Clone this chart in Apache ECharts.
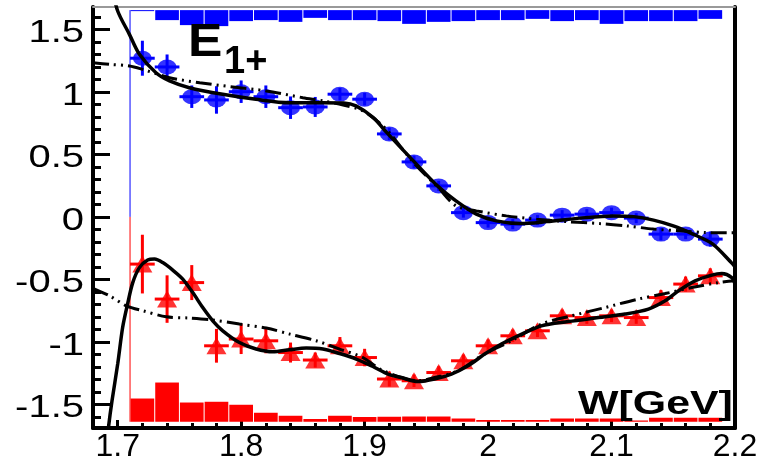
<!DOCTYPE html>
<html>
<head>
<meta charset="utf-8">
<script src="https://cdn.jsdelivr.net/npm/echarts@6/dist/echarts.min.js"></script>
<style>
  html, body { margin: 0; padding: 0; background: #fff; }
  #chart { width: 767px; height: 463px; }
</style>
</head>
<body>
<div id="chart"></div>
<script>
// Axis ticks
const xTicks = [1.7, 1.8, 1.9, 2.0, 2.1, 2.2];
const yTicks = [-1.5, -1, -0.5, 0, 0.5, 1, 1.5];

// Measured multipole points (W in GeV)
const wPoints = [1.72, 1.74, 1.76, 1.78, 1.80, 1.82, 1.84, 1.86, 1.88, 1.90, 1.92, 1.94,
                 1.96, 1.98, 2.00, 2.02, 2.04, 2.06, 2.08, 2.10, 2.12, 2.14, 2.16, 2.18];
const blueVals = [1.27, 1.20, 0.962, 0.936, 1.002, 0.962, 0.874, 0.88, 0.982, 0.942, 0.664, 0.44,
                  0.248, 0.034, -0.046, -0.058, -0.026, 0.014, 0.022, 0.034, -0.01, -0.138, -0.138, -0.178];
const blueErrs = [0.14, 0.10, 0.09, 0.11, 0.09, 0.09, 0.09, 0.08, 0.05, 0.05, 0.05, 0.05,
                  0.04, 0.04, 0.04, 0.04, 0.04, 0.04, 0.04, 0.04, 0.04, 0.05, 0.04, 0.06];
const redVals = [-0.378, -0.658, -0.526, -1.032, -0.978, -0.992, -1.086, -1.146, -1.032, -1.126, -1.298, -1.312,
                 -1.246, -1.152, -1.032, -0.952, -0.912, -0.792, -0.806, -0.792, -0.806, -0.646, -0.538, -0.472];
const redErrs = [0.235, 0.19, 0.14, 0.135, 0.12, 0.10, 0.08, 0.06, 0.07, 0.07, 0.06, 0.05,
                 0.05, 0.05, 0.05, 0.05, 0.05, 0.05, 0.05, 0.05, 0.05, 0.06, 0.06, 0.06];
const xHalfWidth = 0.01;

// Histogram bins (lower edges) and bar sizes
const binLow = [1.71, 1.73, 1.75, 1.77, 1.79, 1.81, 1.83, 1.85, 1.87, 1.89, 1.91, 1.93,
                1.95, 1.97, 1.99, 2.01, 2.03, 2.05, 2.07, 2.09, 2.11, 2.13, 2.15, 2.17];
const binWidth = 0.02;
const blueHistTop = 1.655;
const blueHistDepth = [0.008, 0.08, 0.12, 0.128, 0.088, 0.08, 0.094, 0.062, 0.08, 0.08, 0.088, 0.11,
                       0.094, 0.088, 0.08, 0.08, 0.07, 0.088, 0.08, 0.11, 0.088, 0.088, 0.088, 0.07];
const redHistBase = -1.64;
const redHistHeight = [0.186, 0.314, 0.154, 0.16, 0.136, 0.072, 0.048, 0.022, 0.048, 0.038, 0.04, 0.042,
                       0.042, 0.026, 0.014, 0.014, 0.014, 0.026, 0.026, 0.026, 0.01, 0.032, 0.032, 0.032];

// Model curves
const blueSolid = [[1.695, 1.85], [1.700, 1.648], [1.7095, 1.461], [1.7176, 1.301], [1.731, 1.154], [1.742, 1.088],
  [1.758, 1.034], [1.785, 0.981], [1.812, 0.941], [1.839, 0.914], [1.866, 0.914], [1.883, 0.912],
  [1.893, 0.888], [1.907, 0.794], [1.918, 0.674], [1.9395, 0.448], [1.959, 0.248], [1.974, 0.128],
  [1.9905, 0.022], [2.0067, -0.032], [2.026, -0.054], [2.0475, -0.038], [2.0745, -0.010], [2.101, 0.008],
  [2.118, 0.002], [2.134, -0.026], [2.150, -0.072], [2.166, -0.138], [2.182, -0.218], [2.197, -0.366], [2.2, -0.40]];
const blueDashed = [[1.68, 1.234], [1.6934, 1.221], [1.7095, 1.208], [1.7201, 1.181], [1.742, 1.114], [1.7664, 1.074],
  [1.7932, 1.04], [1.8204, 1.008], [1.85, 0.954], [1.8663, 0.928], [1.8826, 0.896], [1.8988, 0.848],
  [1.9124, 0.749], [1.9205, 0.669], [1.94, 0.43], [1.96, 0.23], [1.974, 0.088], [1.9905, 0.048],
  [2.0148, 0.008], [2.0391, -0.018], [2.0635, -0.038], [2.0906, -0.054], [2.1122, -0.072], [2.134, -0.098],
  [2.1555, -0.112], [2.177, -0.126], [2.2, -0.128]];
const redSolid = [[1.6915, -1.80], [1.6927, -1.672], [1.6954, -1.472], [1.70, -1.178], [1.704, -0.886], [1.708, -0.698],
  [1.7122, -0.526], [1.7176, -0.406], [1.7243, -0.346], [1.7298, -0.338], [1.7365, -0.366], [1.7446, -0.426],
  [1.7527, -0.498], [1.7608, -0.606], [1.7689, -0.726], [1.777, -0.832], [1.7851, -0.912], [1.7986, -1.006],
  [1.8121, -1.058], [1.8256, -1.08], [1.8391, -1.064], [1.8527, -1.05], [1.8662, -1.058], [1.8797, -1.094],
  [1.8932, -1.138], [1.9067, -1.198], [1.9189, -1.258], [1.9297, -1.286], [1.9432, -1.318], [1.9567, -1.298],
  [1.9703, -1.258], [1.9838, -1.192], [1.9973, -1.098], [2.0108, -1.018], [2.0243, -0.952], [2.0432, -0.872],
  [2.0649, -0.838], [2.0893, -0.806], [2.111, -0.778], [2.1299, -0.738], [2.1434, -0.672], [2.1542, -0.592],
  [2.1677, -0.512], [2.1812, -0.466], [2.1893, -0.454], [2.1974, -0.486], [2.2, -0.538]];
const redDashed = [[1.68, -0.572], [1.6934, -0.632], [1.707, -0.712], [1.7205, -0.752], [1.7394, -0.80], [1.7581, -0.81],
  [1.777, -0.826], [1.7986, -0.858], [1.8204, -0.89], [1.8392, -0.938], [1.8608, -0.992], [1.8797, -1.058],
  [1.8986, -1.126], [1.9124, -1.218], [1.9297, -1.286], [1.9432, -1.312], [1.9567, -1.286], [1.9757, -1.232],
  [1.9946, -1.112], [2.0189, -0.992], [2.0432, -0.858], [2.0676, -0.792], [2.0946, -0.726], [2.1217, -0.658],
  [2.1434, -0.614], [2.165, -0.566], [2.1866, -0.526], [2.2, -0.512]];

const BLUE = '#0000ff';
const RED = '#ff0000';
const FONT = '"Liberation Sans", Arial, Helvetica, sans-serif';
const ELLIPSE = 'path://M0,10A10,10 0 1,0 20,10A10,10 0 1,0 0,10Z';
const DASH_DOT_DOT = [16, 5, 2, 5, 2, 5];

function histSeries(base, levels, color) {
  return {
    type: 'custom',
    clip: true,
    z: 1,
    data: binLow.map((w, i) => [w, w + binWidth, levels[i]]),
    renderItem(params, api) {
      const a = api.coord([api.value(0), base]);
      const b = api.coord([api.value(1), api.value(2)]);
      return {
        type: 'rect',
        shape: {
          x: a[0] + 0.5,
          y: Math.min(a[1], b[1]),
          width: b[0] - a[0] - 1,
          height: Math.abs(b[1] - a[1])
        },
        style: { fill: color }
      };
    }
  };
}

function errorSeries(vals, errs, color) {
  return {
    type: 'custom',
    clip: true,
    z: 3,
    data: wPoints.map((w, i) => [w, vals[i], errs[i]]),
    renderItem(params, api) {
      const w = api.value(0), v = api.value(1), e = api.value(2);
      const t = api.coord([w, v + e]), b = api.coord([w, v - e]);
      const l = api.coord([w - xHalfWidth, v]), r = api.coord([w + xHalfWidth, v]);
      return {
        type: 'group',
        children: [
          { type: 'line', shape: { x1: t[0], y1: t[1], x2: b[0], y2: b[1] }, style: { stroke: color, lineWidth: 3 } },
          { type: 'line', shape: { x1: l[0], y1: l[1], x2: r[0], y2: r[1] }, style: { stroke: color, lineWidth: 3 } }
        ]
      };
    }
  };
}

function curve(data, dashed) {
  return {
    type: 'line',
    data: data,
    smooth: 0.3,
    showSymbol: false,
    symbol: 'none',
    clip: true,
    z: 5,
    silent: true,
    lineStyle: { color: '#000', width: dashed ? 3 : 3.5, type: dashed ? DASH_DOT_DOT : 'solid', cap: 'butt' }
  };
}

const chart = echarts.init(document.getElementById('chart'), null, { renderer: 'canvas' });

chart.setOption({
  animation: false,
  backgroundColor: '#fff',
  grid: { left: 93, right: 32, top: 7, bottom: 35, containLabel: false },
  xAxis: [{
    type: 'value',
    min: 1.68, max: 2.2,
    splitNumber: 5, minInterval: 0.1, maxInterval: 0.1,
    axisLine: { onZero: false, lineStyle: { color: '#000', width: 4 } },
    axisTick: { inside: true, length: 8, customValues: xTicks, lineStyle: { color: '#000', width: 3 } },
    minorTick: { show: true, splitNumber: 5, length: 5, lineStyle: { color: '#000', width: 3 } },
    axisLabel: { customValues: xTicks, color: '#000', fontSize: 32, fontFamily: FONT, margin: 3 },
    splitLine: { show: false }
  }, {
    type: 'value', position: 'top',
    min: 1.68, max: 2.2,
    axisLine: { onZero: false, lineStyle: { color: '#999', width: 2 } },
    axisTick: { show: false }, axisLabel: { show: false }, splitLine: { show: false }
  }],
  yAxis: [{
    type: 'value',
    min: -1.69, max: 1.68,
    splitNumber: 7, minInterval: 0.5, maxInterval: 0.5,
    axisLine: { onZero: false, lineStyle: { color: '#000', width: 4 } },
    axisTick: { inside: true, length: 17, customValues: yTicks, lineStyle: { color: '#000', width: 3 } },
    minorTick: { show: true, splitNumber: 5, length: 8, lineStyle: { color: '#000', width: 3 } },
    // labels are drawn below as wide text placed at the axis' own tick positions
    axisLabel: { show: false },
    splitLine: { show: false }
  }, {
    type: 'value', position: 'right',
    min: -1.69, max: 1.68,
    axisLine: { onZero: false, lineStyle: { color: '#000', width: 4 } },
    axisTick: { show: false }, axisLabel: { show: false }, splitLine: { show: false }
  }],
  series: [
    histSeries(blueHistTop, blueHistDepth.map(d => blueHistTop - d), BLUE),
    histSeries(redHistBase, redHistHeight.map(h => redHistBase + h), RED),
    {
      type: 'line', data: [[binLow[0], blueHistTop], [binLow[0], 0]], symbol: 'none', z: 2, silent: true,
      lineStyle: { color: BLUE, width: 1 }
    },
    {
      type: 'line', data: [[binLow[0], 0], [binLow[0], redHistBase]], symbol: 'none', z: 2, silent: true,
      lineStyle: { color: RED, width: 1 }
    },
    errorSeries(blueVals, blueErrs, BLUE),
    errorSeries(redVals, redErrs, RED),
    {
      type: 'scatter', z: 4, silent: true,
      data: wPoints.map((w, i) => [w, blueVals[i]]),
      symbol: ELLIPSE, symbolSize: [19, 15],
      itemStyle: { color: BLUE }
    },
    {
      type: 'scatter', z: 4, silent: true,
      data: wPoints.map((w, i) => [w, redVals[i]]),
      symbol: 'triangle', symbolSize: [20, 17],
      itemStyle: { color: RED }
    },
    curve(blueDashed, true),
    curve(redDashed, true),
    curve(blueSolid, false),
    curve(redSolid, false)
  ]
});

// Y tick labels, positioned through the y axis scale
const yLabelTexts = yTicks.map(v => ({
  type: 'text',
  x: 84,
  y: chart.convertToPixel({ yAxisIndex: 0 }, v) + 4,
  scaleX: 1.25,
  z: 10,
  style: { text: String(v), font: '32px ' + FONT, fill: '#000', textAlign: 'right', textVerticalAlign: 'middle' }
}));

chart.setOption({
  graphic: yLabelTexts.concat([
    {
      type: 'text', x: 188, y: 20, scaleX: 1.12, z: 10,
      style: { text: 'E', font: 'bold 46px ' + FONT, fill: '#000', textAlign: 'left', textVerticalAlign: 'top' }
    },
    {
      type: 'text', x: 224, y: 44, z: 10,
      style: { text: '1+', font: 'bold 38px ' + FONT, fill: '#000', textAlign: 'left', textVerticalAlign: 'top' }
    },
    {
      type: 'text', x: 578, y: 388, scaleX: 1.3, z: 10,
      style: { text: 'W[GeV]', font: 'bold 33px ' + FONT, fill: '#000', textAlign: 'left', textVerticalAlign: 'top' }
    }
  ])
});
</script>
</body>
</html>
